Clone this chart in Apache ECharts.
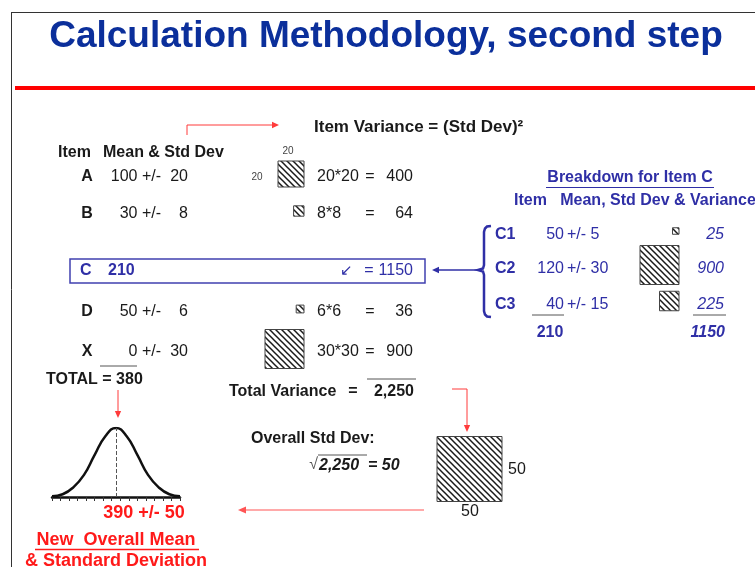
<!DOCTYPE html>
<html><head><meta charset="utf-8">
<script src="https://cdn.jsdelivr.net/npm/echarts@6/dist/echarts.min.js"></script>
<style>html,body{margin:0;padding:0;background:#fff}#c{width:755px;height:567px}</style>
</head><body><div id="c"></div>
<script>
// ---------- data ----------
const items = ['A', 'B', 'C', 'D', 'X'];
const itemMeans = [100, 30, 210, 50, 0];
const itemSds = [20, 8, null, 6, 30];
const itemVariances = [400, 64, 1150, 36, 900];
const cParts = ['C1', 'C2', 'C3'];
const cMeans = [50, 120, 40];
const cSds = [5, 30, 15];
const cVariances = [25, 900, 225];
const cMeanTotal = 210;
const cVarianceTotal = 1150;
const totalMean = 380;
const totalVariance = 2250;
const overallSd = 50;
const newMean = 390;
const newSd = 50;
// bell curve heights (relative, peak = 100)
const curveX = [240, 265, 290, 315, 340, 365, 390, 415, 440, 465, 490, 515, 540];
const curveH = [1, 4, 14, 32, 61, 88, 100, 88, 61, 32, 14, 4, 1];

// ---------- layout ----------
const rowY = [177, 214, 271, 312, 352];
const cRowY = [235, 269, 305];
const SQ = 1.3; // px per unit of std dev
const FONT = "'Liberation Sans', Arial, sans-serif";
const BLUE = '#2f2fa6';
const TITLE_BLUE = '#0b2f9b';
const RED = '#ff1a1a';
const DARK = '#1a1a1a';

function fmt(n) { return n.toLocaleString('en-US'); }

function T(text, x, y, o) {
  o = o || {};
  const font = (o.italic ? 'italic ' : '') + (o.bold ? 'bold ' : '') + (o.size || 16) + 'px ' + FONT;
  return { type: 'text', x: x, y: y, silent: true, z: 10,
    style: { text: String(text), fill: o.color || DARK, font: font,
      align: o.align || 'left', verticalAlign: 'middle',
      textAlign: o.align || 'left', textVerticalAlign: 'middle' } };
}
function L(x1, y1, x2, y2, color, w) {
  return { type: 'line', silent: true, shape: { x1: x1, y1: y1, x2: x2, y2: y2 },
    style: { stroke: color, lineWidth: w || 1 } };
}
function arrow(points, color, w, head) {
  head = head || 7;
  const n = points.length;
  const e = points[n - 1], p = points[n - 2];
  let dx = e[0] - p[0], dy = e[1] - p[1];
  const len = Math.sqrt(dx * dx + dy * dy); dx /= len; dy /= len;
  const bx = e[0] - dx * head, by = e[1] - dy * head;
  const hw = head * 0.45;
  const pts = points.slice(0, n - 1).concat([[bx, by]]);
  return [
    { type: 'polyline', silent: true, shape: { points: pts }, style: { stroke: color, lineWidth: w || 1, fill: null } },
    { type: 'polygon', silent: true, shape: { points: [e, [bx - dy * hw, by + dx * hw], [bx + dy * hw, by - dx * hw]] }, style: { fill: color } }
  ];
}

// hatch pattern
const pc = document.createElement('canvas');
const PS = 6; pc.width = PS; pc.height = PS;
const pctx = pc.getContext('2d');
pctx.fillStyle = '#fff'; pctx.fillRect(0, 0, PS, PS);
pctx.strokeStyle = '#1a1a1a'; pctx.lineWidth = 1.5;
for (let k = -1; k <= 1; k++) {
  pctx.beginPath(); pctx.moveTo(k * PS - 1, -1); pctx.lineTo(k * PS + PS + 1, PS + 1); pctx.stroke();
}
const hatch = { image: pc, repeat: 'repeat' };

// ---------- graphic elements ----------
const g = [];
// slide frame
g.push(L(11, 12.5, 755, 12.5, '#333', 1));
g.push(L(11.5, 12, 11.5, 567, '#333', 1));
g.push(T('Calculation Methodology, second step', 386, 37, { bold: true, size: 37, color: TITLE_BLUE, align: 'center' }));
g.push(L(15, 88, 755, 88, '#ff0000', 4));

// header
g.push.apply(g, arrow([[187, 135], [187, 125], [279, 125]], '#ff3b3b', 1, 7));
g.push(T('Item Variance = (Std Dev)²', 314, 127, { bold: true, size: 17 }));
g.push(T('Item', 58, 153, { bold: true }));
g.push(T('Mean & Std Dev', 103, 153, { bold: true }));

// item rows
items.forEach(function (name, i) {
  const y = rowY[i];
  if (itemSds[i] === null) {
    g.push({ type: 'rect', silent: true, shape: { x: 70, y: 259, width: 355, height: 24 }, style: { fill: null, stroke: '#4040b0', lineWidth: 1.5 } });
    g.push(T(name, 80, y, { bold: true, color: BLUE }));
    g.push(T(itemMeans[i], 108, y, { bold: true, color: BLUE }));
    g.push(T('↙', 346, y, { color: BLUE, align: 'center', size: 15 }));
    g.push(T('=', 369, y, { color: BLUE, align: 'center' }));
    g.push(T(itemVariances[i], 413, y, { color: BLUE, align: 'right' }));
    return;
  }
  g.push(T(name, 87, y, { bold: true, align: 'center' }));
  g.push(T(itemMeans[i] + ' +/-', 161, y, { align: 'right' }));
  g.push(T(itemSds[i], 188, y, { align: 'right' }));
  g.push(T(itemSds[i] + '*' + itemSds[i], 317, y));
  g.push(T('=', 370, y, { align: 'center' }));
  g.push(T(itemVariances[i], 413, y, { align: 'right' }));
});
// square side labels for A
g.push(T(itemSds[0], 288, 151, { size: 10, color: '#444', align: 'center' }));
g.push(T(itemSds[0], 257, 177, { size: 10, color: '#444', align: 'center' }));

// totals
g.push(L(100, 366, 137, 366, '#555', 1));
g.push(T('TOTAL = ' + totalMean, 46, 380, { bold: true }));
g.push.apply(g, arrow([[118, 390], [118, 418]], '#ff3b3b', 1, 7));
g.push(T('Total Variance', 229, 392, { bold: true }));
g.push(T('=', 353, 392, { bold: true, align: 'center' }));
g.push(L(367, 379, 416, 379, '#555', 1));
g.push(T(fmt(totalVariance), 414, 392, { bold: true, align: 'right' }));
g.push.apply(g, arrow([[452, 389], [467, 389], [467, 432]], '#ff3b3b', 1, 7));

g.push(T('Overall Std Dev:', 251, 439, { bold: true }));
g.push(T('√', 318, 465, { size: 16, color: '#555', align: 'right' }));
g.push(L(318, 455, 367, 455, '#555', 1));
g.push(T(fmt(totalVariance), 319, 466, { bold: true, italic: true }));
g.push(T('= ' + overallSd, 368, 466, { bold: true, italic: true }));
g.push(T(overallSd, 517, 470, { align: 'center' }));
g.push(T(overallSd, 470, 512, { align: 'center' }));
g.push.apply(g, arrow([[424, 510], [238, 510]], '#ff5555', 1.2, 8));

// bell labels
g.push(T(newMean + ' +/- ' + newSd, 144, 513, { bold: true, size: 18, color: RED, align: 'center' }));
g.push(T('New  Overall Mean', 116, 540, { bold: true, size: 18, color: RED, align: 'center' }));
g.push(L(35, 549.5, 199, 549.5, RED, 1.5));
g.push(T('& Standard Deviation', 116, 561, { bold: true, size: 18, color: RED, align: 'center' }));

// breakdown for C
g.push(T('Breakdown for Item C', 630, 178, { bold: true, color: BLUE, align: 'center' }));
g.push(L(546, 187.5, 714, 187.5, BLUE, 1.2));
g.push(T('Item   Mean, Std Dev & Variance', 514, 201, { bold: true, color: BLUE }));
g.push({ type: 'polyline', silent: true,
  shape: { points: [[491, 226], [487, 226.5], [485, 228.5], [484, 232], [484, 265], [483, 268.5], [478, 270], [483, 271.5], [484, 275], [484, 311], [485, 314.5], [487, 316.5], [491, 317]] },
  style: { stroke: BLUE, lineWidth: 2.5, fill: null } });
g.push.apply(g, arrow([[477, 270], [432, 270]], BLUE, 1.3, 7));
cParts.forEach(function (name, i) {
  const y = cRowY[i];
  g.push(T(name, 495, y, { bold: true, color: BLUE }));
  g.push(T(cMeans[i], 564, y, { color: BLUE, align: 'right' }));
  g.push(T('+/- ' + cSds[i], 567, y, { color: BLUE }));
  g.push(T(cVariances[i], 724, y, { color: BLUE, italic: true, align: 'right' }));
});
g.push(L(532, 315, 564, 315, '#555', 1));
g.push(L(693, 315, 726, 315, '#555', 1));
g.push(T(cMeanTotal, 550, 333, { bold: true, color: BLUE, align: 'center' }));
g.push(T(cVarianceTotal, 725, 333, { bold: true, italic: true, color: BLUE, align: 'right' }));

// ---------- squares (std dev squares) ----------
const squareData = [];
items.forEach(function (n, i) { if (itemSds[i] !== null) squareData.push([304, rowY[i] - 3, itemSds[i]]); });
cParts.forEach(function (n, i) { squareData.push([679, cRowY[i] - 4, cSds[i]]); });
squareData.push([502, 469, overallSd]);

const chart = echarts.init(document.getElementById('c'), null, { renderer: 'canvas' });
chart.setOption({
  animation: false,
  backgroundColor: '#fff',
  grid: [
    { left: 0, top: 0, width: 755, height: 567, show: false },
    { left: 52, top: 428, width: 128, height: 69, show: false }
  ],
  xAxis: [
    { gridIndex: 0, type: 'value', min: 0, max: 755, show: false },
    { gridIndex: 1, type: 'value', min: 240, max: 540, interval: 20,
      axisLine: { show: true, lineStyle: { color: '#111', width: 2.5 } },
      axisTick: { show: true, length: 4, lineStyle: { color: '#333', width: 1 } },
      axisLabel: { show: false }, splitLine: { show: false } }
  ],
  yAxis: [
    { gridIndex: 0, type: 'value', min: 0, max: 567, inverse: true, show: false },
    { gridIndex: 1, type: 'value', min: 0, max: 100, show: false }
  ],
  series: [
    { type: 'custom', xAxisIndex: 0, yAxisIndex: 0, silent: true, data: squareData,
      renderItem: function (params, api) {
        const p = api.coord([api.value(0), api.value(1)]);
        const s = api.value(2) * SQ;
        return { type: 'rect', shape: { x: p[0] - s, y: p[1] - s / 2, width: s, height: s },
          style: { fill: hatch, stroke: '#444', lineWidth: 1 } };
      } },
    { type: 'line', xAxisIndex: 1, yAxisIndex: 1, smooth: true, symbol: 'none', silent: true,
      data: curveX.map(function (x, i) { return [x, curveH[i]]; }),
      lineStyle: { color: '#111', width: 2.5 },
      markLine: { silent: true, symbol: ['none', 'none'], label: { show: false },
        lineStyle: { type: 'dashed', color: '#555', width: 1 },
        data: [{ xAxis: newMean }] } }
  ],
  graphic: g
});
</script></body></html>
